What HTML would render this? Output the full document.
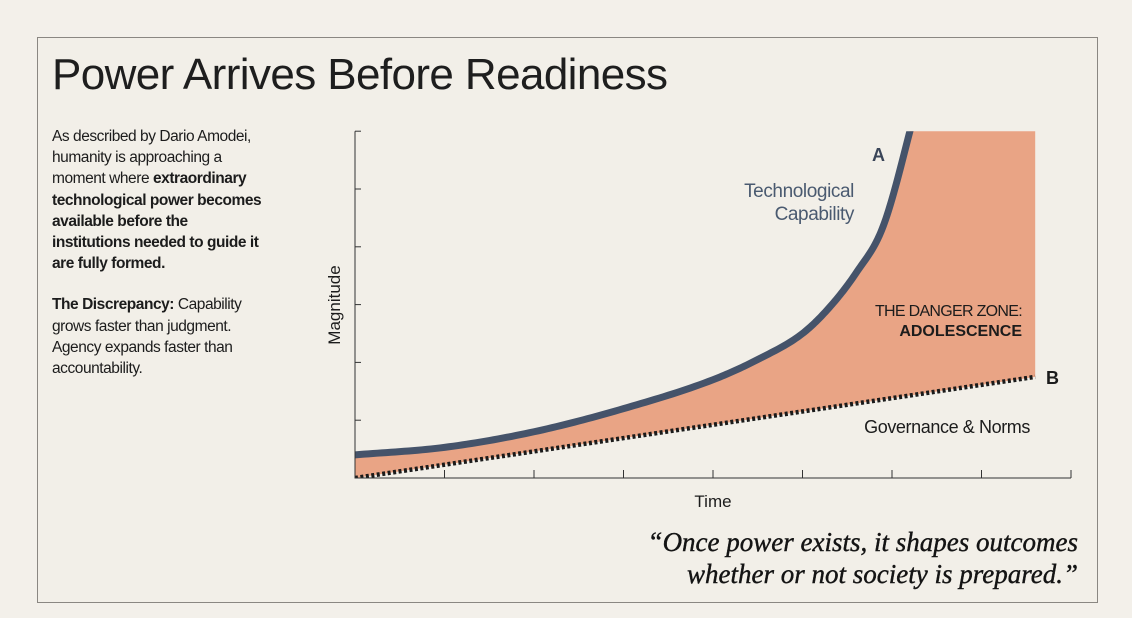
<!DOCTYPE html>
<html><head><meta charset="utf-8"><style>
body{margin:0;background:#f3f0ea;width:1132px;height:618px;overflow:hidden;font-family:"Liberation Sans",sans-serif;color:#1c1c1c}
#frame{position:absolute;left:37px;top:37px;width:1059px;height:564px;border:1px solid #8a8782;background:#f2efe8}
h1{position:absolute;left:52px;top:50px;margin:0;font-weight:400;font-size:44px;letter-spacing:-0.6px;color:#1e1e1e}
.desc{position:absolute;left:52px;top:126px;width:260px;font-size:15.5px;line-height:21.2px;letter-spacing:-0.45px;white-space:nowrap}
.desc p{margin:0 0 20px 0}
.quote{position:absolute;right:54px;top:526px;text-align:right;font-family:"Liberation Serif",serif;font-style:italic;font-size:27px;line-height:32px;color:#141414;-webkit-text-stroke:0.4px #141414}
</style></head><body>
<div id="frame"></div>
<h1>Power Arrives Before Readiness</h1>
<div class="desc"><p>As described by Dario Amodei,<br>humanity is approaching a<br>moment where <b>extraordinary</b><br><b>technological power becomes</b><br><b>available before the</b><br><b>institutions needed to guide it</b><br><b>are fully formed.</b></p><p><b>The Discrepancy:</b> Capability<br>grows faster than judgment.<br>Agency expands faster than<br>accountability.</p></div>
<div class="quote">“Once power exists, it shapes outcomes<br>whether or not society is prepared.”</div>
<svg id="chart" width="1132" height="618" style="position:absolute;left:0;top:0"></svg>
<script>
const capT=[0,1,2,3,4,4.5,5,5.3,5.6,5.9,6.2,6.4];
const capV=[0.40,0.53,0.80,1.20,1.70,2.05,2.50,2.95,3.55,4.35,6.0,7.3];
const govT=[0,7.6];
const govV=[0,1.75];
const xTicks=[0,1,2,3,4,5,6,7,8];
const yTicks=[0,1,2,3,4,5,6];
const NS="http://www.w3.org/2000/svg";
const svg=document.getElementById('chart');
const X=t=>355+t*89.5, Y=v=>478-v*57.8;
function el(tag,attrs,parent){const e=document.createElementNS(NS,tag);for(const k in attrs)e.setAttribute(k,attrs[k]);(parent||svg).appendChild(e);return e;}
function mono(xs,ys){const n=xs.length,dl=[],m=[];for(let i=0;i<n-1;i++)dl.push((ys[i+1]-ys[i])/(xs[i+1]-xs[i]));m[0]=dl[0];m[n-1]=dl[n-2];for(let i=1;i<n-1;i++){m[i]=dl[i-1]*dl[i]<=0?0:(dl[i-1]+dl[i])/2;}
const out=[];for(let i=0;i<n-1;i++){const h=xs[i+1]-xs[i];for(let s=0;s<20;s++){const u=s/20,h00=2*u*u*u-3*u*u+1,h10=u*u*u-2*u*u+u,h01=-2*u*u*u+3*u*u,h11=u*u*u-u*u;out.push([xs[i]+u*h,h00*ys[i]+h10*h*m[i]+h01*ys[i+1]+h11*h*m[i+1]]);}}out.push([xs[n-1],ys[n-1]]);return out;}
const defs=el('defs',{});
const cp=el('clipPath',{id:'plot'},defs);
el('rect',{x:355,y:Y(6),width:X(8)-355,height:Y(0)-Y(6)},cp);
const g=el('g',{'clip-path':'url(#plot)'});
const curve=mono(capT,capV);
let pts=curve.map(p=>X(p[0])+','+Y(p[1]));
pts.push(X(govT[1])+','+Y(7.3));
for(let i=govT.length-1;i>=0;i--)pts.push(X(govT[i])+','+Y(govV[i]));
const f=el('polygon',{points:pts.join(' '),fill:'#e9a485'},g);


const c=el('polyline',{points:curve.map(p=>X(p[0])+','+Y(p[1])).join(' '),fill:'none',stroke:'#45536a','stroke-width':7,'stroke-linejoin':'round'},g);


const gl=el('polyline',{points:govT.map((t,i)=>X(t)+','+Y(govV[i])).join(' '),fill:'none',stroke:'#1a1a1a','stroke-width':4.5,'stroke-dasharray':'3 2.5'},g);


const ax=el('path',{d:`M355,${Y(6)}V478H${X(8)}`,fill:'none',stroke:'#333','stroke-width':1});


xTicks.forEach(t=>{const k=el('line',{x1:X(t),x2:X(t),y1:478,y2:470,stroke:'#333'});});
yTicks.forEach(v=>{const k=el('line',{x1:355,x2:361,y1:Y(v),y2:Y(v),stroke:'#333'});});
function txt(s,x,y,size,opts,name){const t=el('text',Object.assign({x:x,y:y,'font-size':size,'font-family':'Liberation Sans, sans-serif',fill:'#1c1c1c'},opts||{}));t.textContent=s;return t;}
txt('Time',713,507,17,{'text-anchor':'middle'},'x-axis-title');
txt('Magnitude',340,305,17,{'text-anchor':'middle',transform:'rotate(-90 340 305)'},'y-axis-title');
txt('A',872,161,18,{'font-weight':'bold',fill:'#3a4558'},'label-a');
txt('Technological',854,197,19,{'text-anchor':'end',fill:'#4a5a70','letter-spacing':'-0.4'},'capability-label');
txt('Capability',854,220,19,{'text-anchor':'end',fill:'#4a5a70','letter-spacing':'-0.4'},'capability-label-2');
txt('THE DANGER ZONE:',1022,316,16,{'text-anchor':'end','letter-spacing':'-0.7'},'danger-zone-label');
txt('ADOLESCENCE',1022,336,16,{'text-anchor':'end','font-weight':'bold'},'adolescence-label');
txt('B',1046,384,18,{'font-weight':'bold'},'label-b');
txt('Governance & Norms',1030,433,18,{'text-anchor':'end','letter-spacing':'-0.4'},'governance-label');
</script>
</body></html>
